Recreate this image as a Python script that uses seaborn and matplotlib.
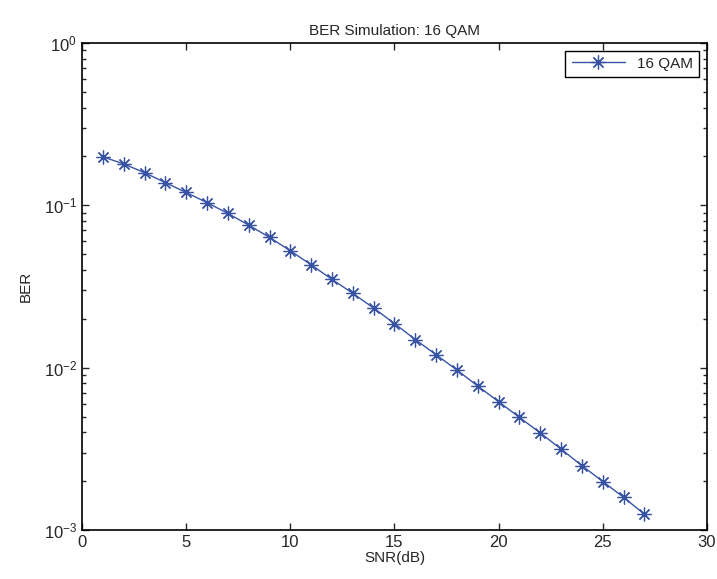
import numpy as np
import pandas as pd
import matplotlib
matplotlib.use("Agg")
import matplotlib.pyplot as plt
import seaborn as sns

# values
snr_db = list(range(1, 28))
ber = [0.199, 0.180, 0.159, 0.138, 0.120, 0.104, 0.0892, 0.0756, 0.0635,
       0.0525, 0.0430, 0.0350, 0.0287, 0.0233, 0.0187, 0.0149, 0.0120,
       0.00967, 0.00770, 0.00617, 0.00494, 0.00396, 0.00315, 0.00249,
       0.00199, 0.00159, 0.00125]
series_name = "16 QAM"
x_ticks = [0, 5, 10, 15, 20, 25, 30]

sns.set_style("white")
plt.rcParams["font.family"] = ["Liberation Sans", "DejaVu Sans"]
plt.rcParams["mathtext.fontset"] = "custom"
plt.rcParams["mathtext.rm"] = "Liberation Sans"
plt.rcParams["mathtext.default"] = "regular"
plt.rcParams["axes.unicode_minus"] = False

df = pd.DataFrame({"SNR": snr_db, "BER": ber})

fig = plt.figure(figsize=(7.17, 5.79), dpi=100)
ax = fig.add_axes([0.1144, 0.0846, 0.8716, 0.8411])

sns.lineplot(data=df, x="SNR", y="BER", color="#3853a4", linewidth=1.0,
             label=series_name, ax=ax)
# matlab-style asterisk marker
line = ax.lines[0]
line.set_linestyle("-")
line.set_marker((8, 2, 0))
line.set_markersize(10)
line.set_markeredgewidth(0.9)
line.set_markeredgecolor("#3853a4")

ax.set_yscale("log")
ax.set_xlim(0, 30)
ax.set_ylim(1e-3, 1)
ax.set_xticks(x_ticks)
ax.set_xticklabels([str(t) for t in x_ticks])
ax.tick_params(which="both", direction="in", top=True, right=True,
               labelsize=12, width=1, left=True, bottom=True)
ax.tick_params(which="major", length=5)
ax.tick_params(which="minor", length=3)
for s in ax.spines.values():
    s.set_linewidth(1.2)
    s.set_color("black")

ax.set_title("BER Simulation: 16 QAM", fontsize=11, pad=6)
ax.set_xlabel("SNR(dB)", fontsize=11, labelpad=1)
ax.set_ylabel("BER", fontsize=11, labelpad=8)

leg = ax.legend(loc="upper right", fontsize=11, frameon=True, fancybox=False,
                borderaxespad=0.5, handlelength=3.5)
leg.get_frame().set_edgecolor("black")
leg.get_frame().set_linewidth(1.0)
leg.get_frame().set_alpha(1)

fig.savefig("out.png", dpi=100)
